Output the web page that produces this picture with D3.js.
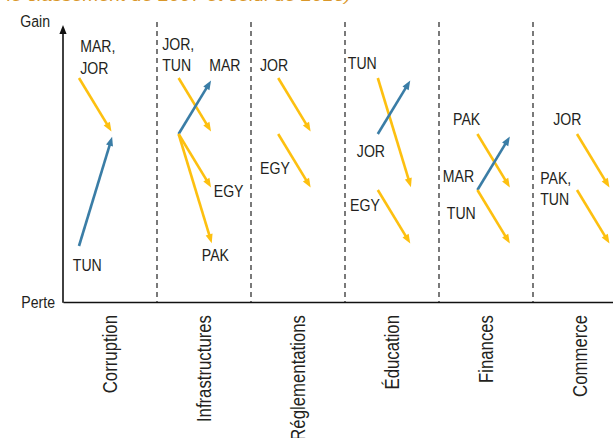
<!DOCTYPE html>
<html><head><meta charset="utf-8">
<script src="https://cdn.jsdelivr.net/npm/d3@7"></script>
<style>
html,body{margin:0;padding:0;background:#fff;}
svg{display:block;}
text{font-family:"Liberation Sans",Arial,sans-serif;fill:#231f20;}
</style></head>
<body><svg id="c" width="613" height="438"></svg>
<script>
// ---- data ----
const categories = ["Corruption","Infrastructures","Réglementations","Éducation","Finances","Commerce"];
const years = [2007, 2013];
const arrowCategory = ["Corruption","Corruption",
  "Infrastructures","Infrastructures","Infrastructures","Infrastructures",
  "Réglementations","Réglementations",
  "Éducation","Éducation","Éducation",
  "Finances","Finances","Finances",
  "Commerce","Commerce"];
const level2007 = [4,1, 4,3,3,3, 4,3, 4,3,2, 3,2,2, 3,2];
const level2013 = [3,3, 3,4,2,1, 3,2, 2,4,1, 2,3,1, 2,1];

const labelCategory = ["Corruption","Corruption",
  "Infrastructures","Infrastructures","Infrastructures","Infrastructures",
  "Réglementations","Réglementations",
  "Éducation","Éducation","Éducation",
  "Finances","Finances","Finances",
  "Commerce","Commerce"];
const labelText = [["MAR,","JOR"],["TUN"],
  ["JOR,","TUN"],["MAR"],["EGY"],["PAK"],
  ["JOR"],["EGY"],
  ["TUN"],["JOR"],["EGY"],
  ["PAK"],["MAR"],["TUN"],
  ["JOR"],["PAK,","TUN"]];
const labelYear  = [2007.2,2005.9, 2004.1,2012.4,2013.2,2011.1, 2003.8,2003.8, 2001.7,2003.3,2002.1, 2002.7,2000.9,2001.6, 2002.8,2000.5];
const labelLevel = [4.46,0.55, 4.5,4.12,1.875,0.73, 4.12,2.29, 4.16,2.59,1.625, 3.16,2.14,1.48, 3.16,2.11];

const axisLabels = {top:"Gain", bottom:"Perte"};
const titleText = "le classement de 2007 et celui de 2013)";

// ---- scales ----
const svg = d3.select("#c");
const yScale = d3.scaleLinear().domain([0,5]).range([302,22]);
const panel = d3.scaleBand().domain(categories).range([63,627]).padding(0);
const arrowX = d3.scalePoint().domain(categories).range([79,577]);
const yearX = d3.scaleLinear().domain(years).range([0,34]);

const YELLOW = "#fdc010", BLUE = "#3a7da6";
const COND = 0.83;

// title (clipped at top)
svg.append("text").attr("x",7).attr("y",0.5)
  .attr("textLength",344).attr("lengthAdjust","spacingAndGlyphs")
  .style("font-style","italic").style("font-size","17px").style("fill","#d9972a")
  .text(titleText);

// dividers
svg.selectAll("line.div").data(categories.slice(1)).enter().append("line")
  .attr("x1",d=>panel(d)).attr("x2",d=>panel(d))
  .attr("y1",yScale(5)).attr("y2",yScale(0))
  .attr("stroke","#222").attr("stroke-width",1.2).attr("stroke-dasharray","5,4");

// x axis with category labels
const xAxis = svg.append("g").attr("transform",`translate(0,${yScale(0)})`)
  .call(d3.axisBottom(panel).tickSize(0).tickSizeOuter(0));
xAxis.select(".domain").attr("stroke","#111").attr("stroke-width",1.6);
xAxis.selectAll(".tick text")
  .attr("transform",`rotate(-90) scale(0.86,1)`)
  .attr("x",-13/0.86).attr("y",0).attr("dy","0.35em")
  .style("text-anchor","end")
  .style("font-family",'"Liberation Sans",Arial,sans-serif')
  .style("font-size","19.5px").attr("fill","#231f20");

// y axis with arrow
const ax = panel.range()[0];
const yTop = 25;
svg.append("line").attr("x1",ax).attr("x2",ax).attr("y1",yScale(0)+0.8).attr("y2",yTop+6)
  .attr("stroke","#111").attr("stroke-width",1.6);
svg.append("path").attr("d",`M${ax},${yTop} L${ax-3.6},${yTop+9} L${ax+3.6},${yTop+9} Z`).attr("fill","#111");
svg.append("text").attr("transform",`translate(50,27) scale(${COND},1)`).attr("text-anchor","end").style("font-size","17px").text(axisLabels.top);
svg.append("text").attr("transform",`translate(55,308) scale(${COND},1)`).attr("text-anchor","end").style("font-size","17px").text(axisLabels.bottom);

// arrows
const arrows = arrowCategory.map((c,i)=>({c, a:level2007[i], b:level2013[i]}));
const g = svg.append("g");
arrows.forEach(d=>{
  const x1 = arrowX(d.c)+yearX(years[0]), y1 = yScale(d.a);
  const x2 = arrowX(d.c)+yearX(years[1]), y2 = yScale(d.b);
  const col = d.b > d.a ? BLUE : YELLOW;
  const dx = x2-x1, dy = y2-y1, L = Math.hypot(dx,dy), ux = dx/L, uy = dy/L;
  const tx = x2-ux*3, ty = y2-uy*3;       // tip
  const hl = 9, hw = 3.6;
  const bx = tx-ux*hl, by = ty-uy*hl;
  g.append("line").attr("x1",x1).attr("y1",y1).attr("x2",bx+ux*1).attr("y2",by+uy*1)
    .attr("stroke",col).attr("stroke-width",2.6);
  g.append("path").attr("d",`M${tx},${ty} L${bx-uy*hw},${by+ux*hw} L${bx+uy*hw},${by-ux*hw} Z`).attr("fill",col);
});

// labels
labelText.forEach((lines,i)=>{
  const x = arrowX(labelCategory[i]) + yearX(labelYear[i]);
  const y = yScale(labelLevel[i]);
  const t = svg.append("text").attr("transform",`translate(${x},${y}) scale(${COND},1)`).style("font-size","17px");
  lines.forEach((s,j)=>t.append("tspan").attr("x",0).attr("dy", j===0?0:21.5).text(s));
});
</script></body></html>
